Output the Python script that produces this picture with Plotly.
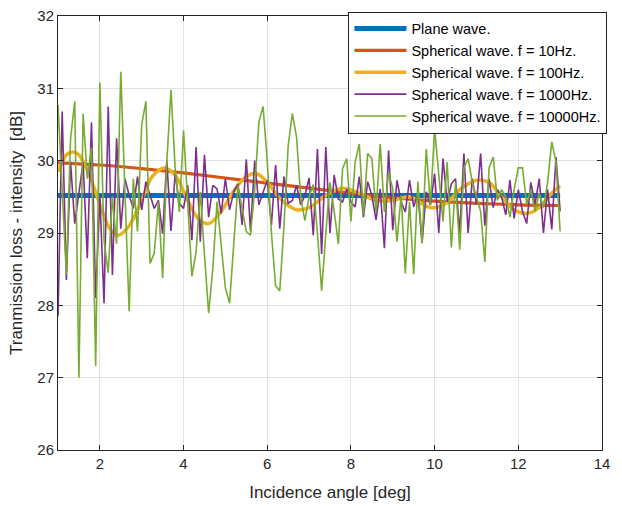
import plotly.graph_objects as go

# ---------------- data ----------------
angle_grid = [round(1 + 0.1 * i, 1) for i in range(121)]

plane_x = [1, 13]
plane_y = [29.52, 29.52]

sph10_x = [1, 2, 3, 4, 5, 6, 7, 8, 9, 10, 11, 12, 13]
sph10_y = [29.97, 29.94, 29.89, 29.83, 29.76, 29.69, 29.62, 29.55, 29.49, 29.44, 29.41, 29.39, 29.38]

sph100_x = [1.0, 1.2, 1.35, 1.5, 1.75, 2.0, 2.25, 2.45, 2.7, 3.0, 3.25, 3.55, 3.8, 4.1, 4.35,
            4.6, 4.9, 5.2, 5.5, 5.75, 6.0, 6.3, 6.7, 7.0, 7.4, 7.8, 8.2, 8.6, 9.0, 9.4, 9.8,
            10.0, 10.3, 10.6, 11.0, 11.3, 11.6, 11.9, 12.2, 12.5, 12.8, 13.0]
sph100_y = [29.85, 30.08, 30.12, 30.08, 29.8, 29.4, 29.05, 28.97, 29.1, 29.45, 29.78, 29.9, 29.8,
            29.45, 29.2, 29.13, 29.3, 29.58, 29.78, 29.82, 29.7, 29.48, 29.32, 29.35, 29.52,
            29.62, 29.55, 29.45, 29.45, 29.5, 29.37, 29.35, 29.42, 29.6, 29.73, 29.7, 29.5,
            29.32, 29.27, 29.35, 29.55, 29.65]

sph1000_y = [27.85, 30.68, 28.35, 29.98, 29.13, 29.52, 29.98, 28.65, 30.53, 28.10,
             29.52, 28.03, 30.75, 28.42, 30.31, 29.06, 29.75, 29.52, 29.34, 29.78,
             29.32, 29.71, 29.52, 29.34, 29.45, 28.99, 30.0, 29.03, 29.82, 29.41,
             29.34, 29.66, 28.9, 30.19, 28.88, 30.08, 29.22, 29.66, 29.61, 29.27,
             29.75, 29.32, 29.57, 29.68, 29.11, 30.02, 29.02, 30.0, 29.39, 29.57,
             29.73, 29.11, 29.94, 29.06, 29.78, 29.41, 29.45, 29.66, 29.39, 29.52,
             29.76, 28.97, 30.16, 28.71, 30.19, 29.0, 29.8, 29.47, 29.43, 29.61,
             29.43, 29.36, 29.78, 29.22, 29.71, 29.52, 29.18, 29.61, 28.79, 30.14,
             29.04, 29.73, 29.43, 29.29, 29.73, 29.36, 29.55, 28.86, 29.57, 29.39,
             29.82, 29.0, 30.03, 29.43, 29.68, 29.75, 29.0, 30.1, 29.0, 29.75,
             29.4, 30.1, 29.1, 29.75, 29.35, 29.6, 29.5, 29.25, 29.73, 29.2,
             29.6, 29.3, 29.13, 29.7, 29.4, 29.75, 29.0, 29.6, 29.05, 30.05,
             29.3]

sph10000_y = [30.77, 29.6, 28.42, 30.3, 30.82, 27.0, 30.65, 29.75, 30.18, 27.16,
              31.08, 28.9, 28.45, 29.5, 28.85, 31.23, 29.6, 27.92, 29.75, 29.02,
              30.5, 30.82, 28.58, 28.72, 29.43, 28.38, 29.98, 30.98, 29.89, 29.29,
              30.42, 29.39, 28.4, 28.74, 29.57, 28.70, 27.89, 28.51, 29.43, 28.83,
              28.24, 28.03, 28.83, 29.66, 29.34, 29.02, 28.97, 29.6, 30.53, 30.75,
              30.0, 29.0, 28.27, 28.2, 29.1, 30.2, 30.65, 30.33, 29.5, 29.17,
              29.5, 29.67, 29.0, 28.2, 29.0, 29.7, 29.3, 28.85, 29.89, 30.03,
              29.16, 29.98, 30.23, 29.25, 30.1, 30.03, 29.29, 30.23, 29.29, 29.84,
              29.61, 28.88, 29.52, 28.44, 29.43, 28.43, 29.71, 28.86, 30.16, 29.39,
              30.44, 29.8, 29.16, 29.98, 28.8, 29.7, 28.77, 29.9, 30.03, 29.7,
              29.5, 29.3, 28.6, 29.9, 30.05, 29.45, 29.6, 29.5, 29.22, 29.6,
              29.9, 29.9, 29.4, 29.6, 29.3, 29.55, 29.35, 29.7, 30.26, 29.98,
              29.02]

x_ticks = [2, 4, 6, 8, 10, 12, 14]
y_ticks = [26, 27, 28, 29, 30, 31, 32]

names = ["Plane wave.", "Spherical wave. f = 10Hz.", "Spherical wave. f = 100Hz.",
         "Spherical wave. f = 1000Hz.", "Spherical wave. f = 10000Hz."]
colors = ["#0072BD", "#D95319", "#EDB120", "#7E2F8E", "#77AC30"]

# ---------------- figure ----------------
fig = go.Figure()
fig.add_trace(go.Scatter(x=plane_x, y=plane_y, mode="lines", name=names[0],
                         line=dict(color=colors[0], width=5)))
fig.add_trace(go.Scatter(x=sph10_x, y=sph10_y, mode="lines", name=names[1],
                         line=dict(color=colors[1], width=3.2, shape="spline")))
fig.add_trace(go.Scatter(x=sph100_x, y=sph100_y, mode="lines", name=names[2],
                         line=dict(color=colors[2], width=3.5, shape="spline")))
fig.add_trace(go.Scatter(x=angle_grid, y=sph1000_y, mode="lines", name=names[3],
                         line=dict(color=colors[3], width=1.6)))
fig.add_trace(go.Scatter(x=angle_grid, y=sph10000_y, mode="lines", name=names[4],
                         line=dict(color=colors[4], width=1.6)))

font_family = "Liberation Sans, Arial, Helvetica, sans-serif"
axis_common = dict(showline=True, linecolor="#262626", linewidth=1, mirror="ticks",
                   ticks="inside", ticklen=5, tickcolor="#262626",
                   showgrid=True, gridcolor="#e2e2e2", gridwidth=1, zeroline=False,
                   automargin=False,
                   tickfont=dict(size=15, color="#262626", family=font_family))

fig.update_layout(
    width=622, height=506,
    margin=dict(l=58, r=20, t=14, b=56),
    paper_bgcolor="white", plot_bgcolor="white",
    font=dict(family=font_family, color="#262626"),
    showlegend=True,
    legend=dict(x=1.01, y=1.01, xanchor="right", yanchor="top",
                bgcolor="white", bordercolor="#262626", borderwidth=1,
                font=dict(size=14.5, color="#000000", family=font_family),
                tracegroupgap=0, itemwidth=52),
)
fig.update_xaxes(range=[1, 14], tickvals=x_ticks,
                 title=dict(text="Incidence angle [deg]", standoff=15,
                            font=dict(size=17, color="#262626")),
                 **axis_common)
fig.update_yaxes(range=[26, 32], tickvals=y_ticks,
                 title=dict(text="Tranmission loss - intensity \u00a0[dB]", standoff=10,
                            font=dict(size=17, color="#262626")),
                 **axis_common)

fig.write_html("out.html")
